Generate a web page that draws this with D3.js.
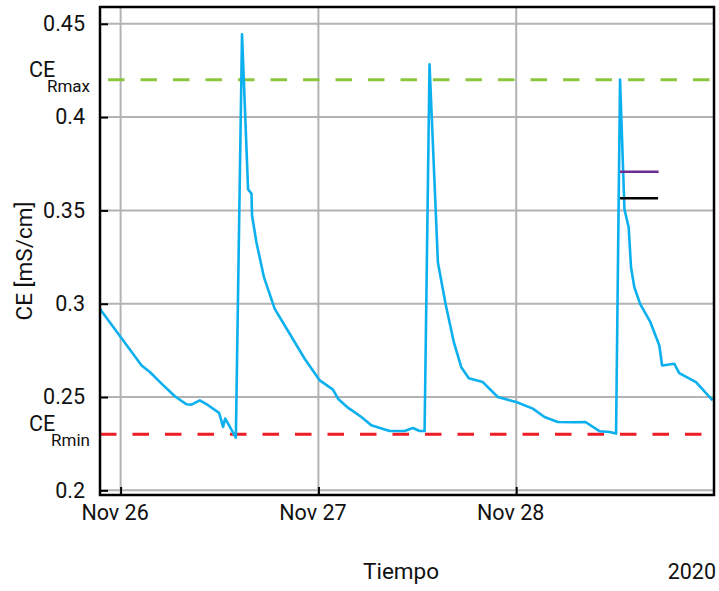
<!DOCTYPE html>
<html>
<head>
<meta charset="utf-8">
<script src="https://cdn.jsdelivr.net/npm/d3@7"></script>
<style>
  body { margin: 0; background: #fff; }
  svg text { font-family: Roboto, "DejaVu Sans", sans-serif; fill: #111; }
</style>
</head>
<body>
<svg id="chart"></svg>
<script>
const width = 719, height = 591;
const margin = { top: 7, right: 5, bottom: 96, left: 100 };

// conductivity series (time, value)
const times = [
  "2020-11-25T21:30", "2020-11-26T02:33", "2020-11-26T03:33", "2020-11-26T04:58",
  "2020-11-26T06:35", "2020-11-26T08:00", "2020-11-26T08:36", "2020-11-26T09:37",
  "2020-11-26T10:37", "2020-11-26T11:57", "2020-11-26T12:26", "2020-11-26T12:41",
  "2020-11-26T13:59", "2020-11-26T14:44", "2020-11-26T15:28", "2020-11-26T15:53",
  "2020-11-26T15:57", "2020-11-26T16:29", "2020-11-26T17:24", "2020-11-26T18:42",
  "2020-11-26T20:31", "2020-11-26T22:20", "2020-11-27T00:10", "2020-11-27T01:46",
  "2020-11-27T02:23", "2020-11-27T03:35", "2020-11-27T05:13", "2020-11-27T06:25",
  "2020-11-27T08:38", "2020-11-27T10:28", "2020-11-27T11:28", "2020-11-27T12:17",
  "2020-11-27T12:53", "2020-11-27T13:29", "2020-11-27T14:30", "2020-11-27T15:26",
  "2020-11-27T16:26", "2020-11-27T17:20", "2020-11-27T18:15", "2020-11-27T19:57",
  "2020-11-27T21:46", "2020-11-28T00:00", "2020-11-28T02:01", "2020-11-28T03:26",
  "2020-11-28T05:03", "2020-11-28T06:52", "2020-11-28T08:24", "2020-11-28T10:06",
  "2020-11-28T11:19", "2020-11-28T12:07", "2020-11-28T12:36", "2020-11-28T13:08",
  "2020-11-28T13:39", "2020-11-28T13:56", "2020-11-28T14:20", "2020-11-28T15:02",
  "2020-11-28T16:17", "2020-11-28T17:22", "2020-11-28T17:42", "2020-11-28T19:11",
  "2020-11-28T19:47", "2020-11-28T21:49", "2020-11-28T23:50"
];
const ce = [
  0.2972, 0.2669, 0.2634, 0.2572,
  0.2504, 0.2461, 0.2459, 0.2482,
  0.2456, 0.2415, 0.2340, 0.2385,
  0.2282, 0.4444, 0.3613, 0.3590,
  0.3471, 0.3328, 0.3141, 0.2972,
  0.2839, 0.2705, 0.2589, 0.2540,
  0.2491, 0.2443, 0.2393, 0.2349,
  0.2318, 0.2318, 0.2334, 0.2318,
  0.2318, 0.4283, 0.3221, 0.2999,
  0.2794, 0.2660, 0.2601, 0.2580,
  0.2500, 0.2473, 0.2438, 0.2393,
  0.2366, 0.2365, 0.2366, 0.2317,
  0.2313, 0.2304, 0.4201, 0.3506,
  0.3408, 0.3194, 0.3088, 0.2999,
  0.2901, 0.2776, 0.2669, 0.2678,
  0.2628, 0.2580, 0.2482
];

// thresholds
const ceRmax = 0.42;
const ceRmin = 0.23;

// short reference segments
const segTimes = ["2020-11-28T12:36", "2020-11-28T17:17"];
const segPurple = 0.3707;
const segBlack = 0.3565;

const yTicks = [0.2, 0.25, 0.3, 0.35, 0.4, 0.45];
const yTickLabels = ["0.2", "0.25", "0.3", "0.35", "0.4", "0.45"];
const xTicks = ["2020-11-26T00:00", "2020-11-27T00:00", "2020-11-28T00:00"];
const xTickLabels = ["Nov 26", "Nov 27", "Nov 28"];
const xDomain = ["2020-11-25T21:30", "2020-11-29T00:00"];

const parse = d3.timeParse("%Y-%m-%dT%H:%M");
const data = times.map((t, i) => ({ t: parse(t), v: ce[i] }));

const svg = d3.select("#chart").attr("width", width).attr("height", height);

const x = d3.scaleTime()
  .domain(xDomain.map(parse))
  .range([margin.left, width - margin.right]);

const y = d3.scaleLinear()
  .domain([0.1975, 0.459])
  .range([height - margin.bottom, margin.top]);

const x0 = margin.left, x1 = width - margin.right;
const y0 = height - margin.bottom, y1 = margin.top;

// grid
svg.append("g")
  .selectAll("line")
  .data(yTicks)
  .join("line")
  .attr("x1", x0).attr("x2", x1)
  .attr("y1", d => y(d)).attr("y2", d => y(d))
  .attr("stroke", "#b3b3b3").attr("stroke-width", 2);

svg.append("g")
  .selectAll("line")
  .data(xTicks.map(parse))
  .join("line")
  .attr("x1", d => x(d)).attr("x2", d => x(d))
  .attr("y1", y0).attr("y2", y1)
  .attr("stroke", "#b3b3b3").attr("stroke-width", 2);

// threshold lines
svg.append("line")
  .attr("x1", x0).attr("x2", x1)
  .attr("y1", y(ceRmax)).attr("y2", y(ceRmax))
  .attr("stroke", "#8cc63f").attr("stroke-width", 3)
  .attr("stroke-dasharray", "16.5 16")
  .attr("stroke-dashoffset", 24.5);

svg.append("line")
  .attr("x1", x0).attr("x2", x1)
  .attr("y1", y(ceRmin)).attr("y2", y(ceRmin))
  .attr("stroke", "#ee1c25").attr("stroke-width", 3)
  .attr("stroke-dasharray", "16.5 16");

// series
const line = d3.line()
  .x(d => x(d.t))
  .y(d => y(d.v));

svg.append("path")
  .datum(data)
  .attr("fill", "none")
  .attr("stroke", "#0cb0ee")
  .attr("stroke-width", 2.6)
  .attr("stroke-linejoin", "round")
  .attr("d", line);

svg.append("line")
  .attr("x1", x(parse(segTimes[0]))).attr("x2", x(parse(segTimes[1])))
  .attr("y1", y(segPurple)).attr("y2", y(segPurple))
  .attr("stroke", "#6a2c91").attr("stroke-width", 2.5);

svg.append("line")
  .attr("x1", x(parse(segTimes[0]))).attr("x2", x(parse(segTimes[1])) - 0.6)
  .attr("y1", y(segBlack)).attr("y2", y(segBlack))
  .attr("stroke", "#000").attr("stroke-width", 2.5);

// frame
svg.append("rect")
  .attr("x", x0).attr("y", y1)
  .attr("width", x1 - x0).attr("height", y0 - y1)
  .attr("fill", "none").attr("stroke", "#000").attr("stroke-width", 2.5);

// axes (ticks inside)
const yAxis = d3.axisLeft(y)
  .tickValues(yTicks)
  .tickFormat((d, i) => yTickLabels[i])
  .tickSize(-8)
  .tickPadding(15);

svg.append("g")
  .attr("transform", `translate(${x0},0)`)
  .call(yAxis)
  .call(g => g.select(".domain").remove())
  .call(g => g.selectAll(".tick line").attr("stroke", "#000").attr("stroke-width", 2))
  .call(g => g.selectAll(".tick text").attr("font-size", 21.5).attr("font-family", "Roboto").attr("fill", "#111"));

const xAxis = d3.axisBottom(x)
  .tickValues(xTicks.map(parse))
  .tickFormat((d, i) => xTickLabels[i])
  .tickSize(-8)
  .tickPadding(10);

svg.append("g")
  .attr("transform", `translate(0,${y0})`)
  .call(xAxis)
  .call(g => g.select(".domain").remove())
  .call(g => g.selectAll(".tick line").attr("stroke", "#000").attr("stroke-width", 2))
  .call(g => g.selectAll(".tick text").attr("font-size", 21.5).attr("font-family", "Roboto")
    .attr("fill", "#111").attr("dx", -6));

// threshold labels
const thLabel = (v, sub) => {
  const g = svg.append("g");
  g.append("text")
    .attr("x", 29).attr("y", y(v) - 3)
    .attr("font-size", 21.5)
    .text("CE");
  g.append("text")
    .attr("x", 90).attr("y", y(v) + 12)
    .attr("text-anchor", "end")
    .attr("font-size", 17)
    .text(sub);
};
thLabel(ceRmax, "Rmax");
thLabel(ceRmin, "Rmin");

// axis titles
svg.append("text")
  .attr("transform", `translate(32,${261}) rotate(-90)`)
  .attr("text-anchor", "middle")
  .attr("font-size", 22.5)
  .text("CE [mS/cm]");

svg.append("text")
  .attr("x", 401).attr("y", 579)
  .attr("text-anchor", "middle")
  .attr("font-size", 22.5)
  .text("Tiempo");

svg.append("text")
  .attr("x", 716).attr("y", 579)
  .attr("text-anchor", "end")
  .attr("font-size", 21.5)
  .text("2020");
</script>
</body>
</html>
